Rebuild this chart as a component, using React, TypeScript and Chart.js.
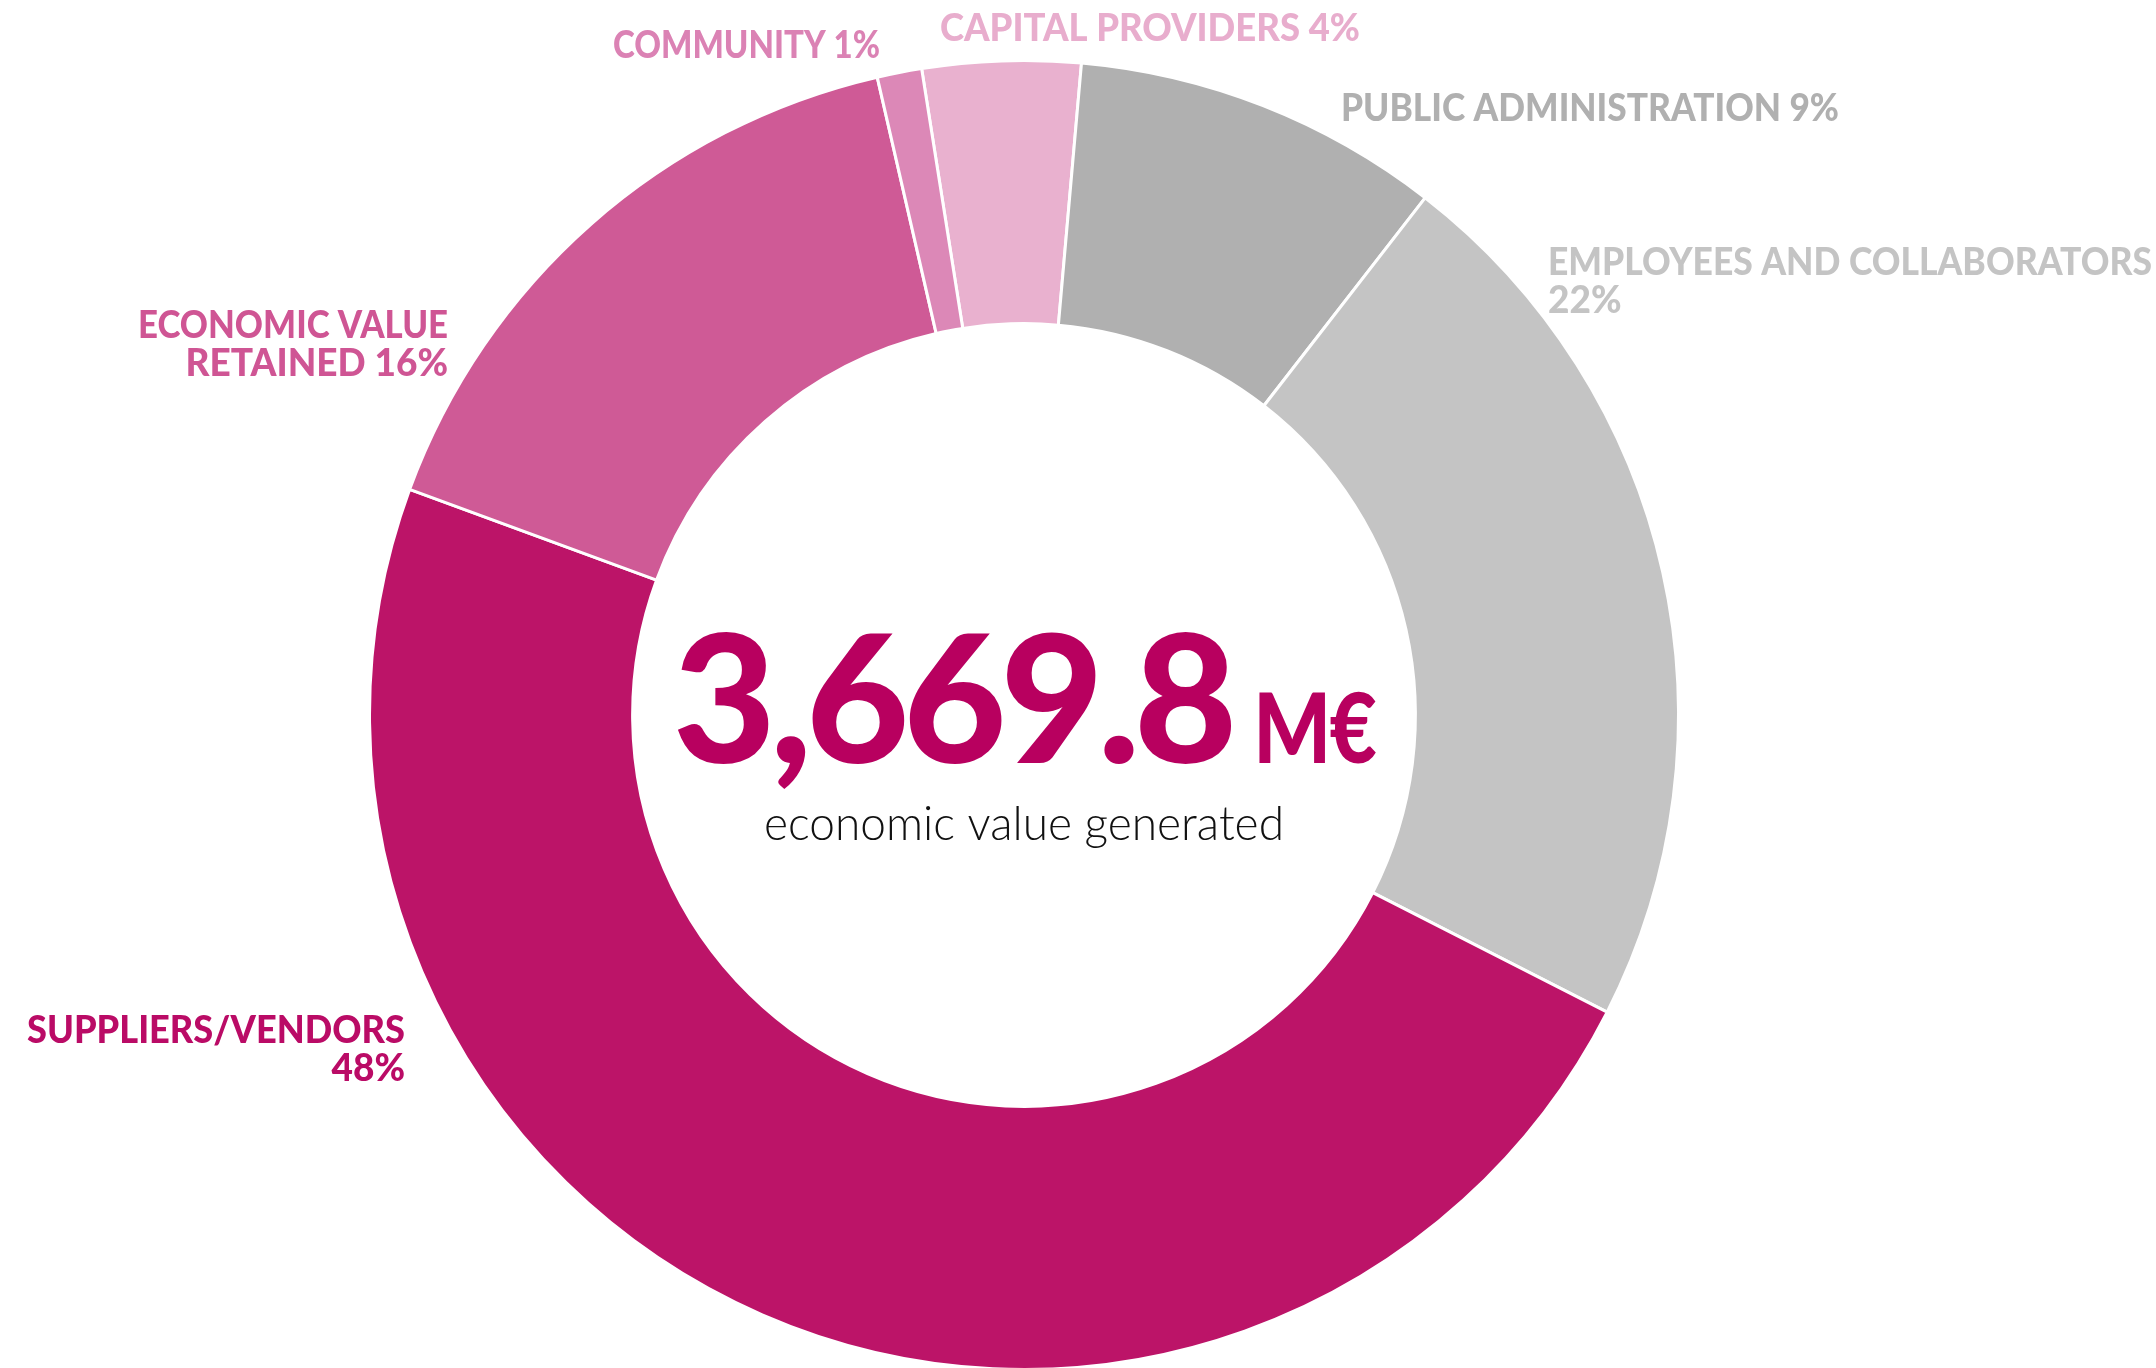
import React, { useEffect, useRef } from "react";
import { Chart, registerables } from "chart.js";

Chart.register(...registerables);

// ---- data ----
const categories = [
  "CAPITAL PROVIDERS",
  "PUBLIC ADMINISTRATION",
  "EMPLOYEES AND COLLABORATORS",
  "SUPPLIERS/VENDORS",
  "ECONOMIC VALUE RETAINED",
  "COMMUNITY",
];
const shares = [3.9, 9.1, 22.0, 48.1, 15.8, 1.1];
const percentLabels = ["4%", "9%", "22%", "48%", "16%", "1%"];
const totalValue = "3,669.8";
const totalUnit = "M€";
const totalCaption = "economic value generated";

// ---- styles ----
const sliceColors = ["#E9B1CF", "#B0B0B0", "#C4C4C4", "#BC1468", "#CF5A96", "#DC88B7"];
const labelColors = ["#E8ADCD", "#B0B0B0", "#C4C4C4", "#BA0B66", "#CF5594", "#DB82B4"];
const labelLines = [
  [`${categories[0]} ${percentLabels[0]}`],
  [`${categories[1]} ${percentLabels[1]}`],
  [categories[2], percentLabels[2]],
  [categories[3], percentLabels[3]],
  ["ECONOMIC VALUE", `RETAINED ${percentLabels[4]}`],
  [`${categories[5]} ${percentLabels[5]}`],
];
// placement relative to doughnut centre
const labelPlacement = [
  { dx: -84, dy: -674, align: "left", maxW: 420 },
  { dx: 317, dy: -594, align: "left", maxW: 498 },
  { dx: 524, dy: -440, align: "left", maxW: 604 },
  { dx: -619, dy: 328, align: "right", maxW: 378 },
  { dx: -576, dy: -377, align: "right", maxW: 310 },
  { dx: -144, dy: -657, align: "right", maxW: 267 },
];
const LINE_H = 38;

const labelPlugin = {
  id: "sliceLabels",
  afterDraw(chart: any) {
    const ctx: CanvasRenderingContext2D = chart.ctx;
    const arc = chart.getDatasetMeta(0).data[0];
    if (!arc) return;
    const cx = arc.x;
    const cy = arc.y;
    ctx.save();
    ctx.textBaseline = "alphabetic";
    ctx.font = "900 37px Lato";
    labelLines.forEach((lines, i) => {
      const p = labelPlacement[i];
      ctx.fillStyle = labelColors[i];
      ctx.textAlign = p.align as CanvasTextAlign;
      lines.forEach((ln, j) => {
        ctx.fillText(ln, cx + p.dx, cy + p.dy + j * LINE_H, p.maxW);
      });
    });

    // centre text
    const anyCtx = ctx as any;
    ctx.textAlign = "left";
    ctx.fillStyle = "#B8005F";
    ctx.font = "900 178px Lato";
    anyCtx.letterSpacing = "-6px";
    let wNum = ctx.measureText(totalValue).width;
    if (wNum > 562) wNum = 562;
    ctx.font = "900 97px Lato";
    anyCtx.letterSpacing = "-2px";
    let wUnit = ctx.measureText(totalUnit).width;
    if (wUnit > 122) wUnit = 122;
    const gap = 22;
    const startX = cx - (wNum + gap + wUnit) / 2;
    const baseY = cy + 48;
    ctx.font = "900 178px Lato";
    anyCtx.letterSpacing = "-6px";
    ctx.fillText(totalValue, startX, baseY, 562);
    ctx.font = "900 97px Lato";
    anyCtx.letterSpacing = "-2px";
    ctx.fillText(totalUnit, startX + wNum + gap, baseY, 122);
    anyCtx.letterSpacing = "0px";

    ctx.textAlign = "center";
    ctx.fillStyle = "#111111";
    ctx.font = "300 47px Lato";
    ctx.fillText(totalCaption, cx, cy + 125, 520);
    ctx.restore();
  },
};

export default function App() {
  const canvasRef = useRef<HTMLCanvasElement | null>(null);

  useEffect(() => {
    if (!canvasRef.current) return;
    const chart = new Chart(canvasRef.current, {
      type: "doughnut",
      data: {
        labels: categories,
        datasets: [
          {
            data: shares,
            backgroundColor: sliceColors,
            borderColor: "#ffffff",
            borderWidth: 3,
            hoverOffset: 0,
          },
        ],
      },
      options: {
        animation: false,
        responsive: true,
        maintainAspectRatio: false,
        rotation: -9,
        cutout: "59.8%",
        layout: { padding: { left: 368, right: 476, top: 59, bottom: 0 } },
        plugins: {
          legend: { display: false },
          tooltip: { enabled: false },
        },
        events: [],
      },
      plugins: [labelPlugin],
    });
    return () => chart.destroy();
  }, []);

  return (
    <div
      style={{
        position: "fixed",
        left: 0,
        top: 0,
        width: "100vw",
        height: "100vh",
        overflow: "hidden",
        background: "#ffffff",
      }}
    >
      <div style={{ position: "absolute", left: 0, top: 0, width: 2156, height: 1371 }}>
        <canvas ref={canvasRef} />
      </div>
    </div>
  );
}
